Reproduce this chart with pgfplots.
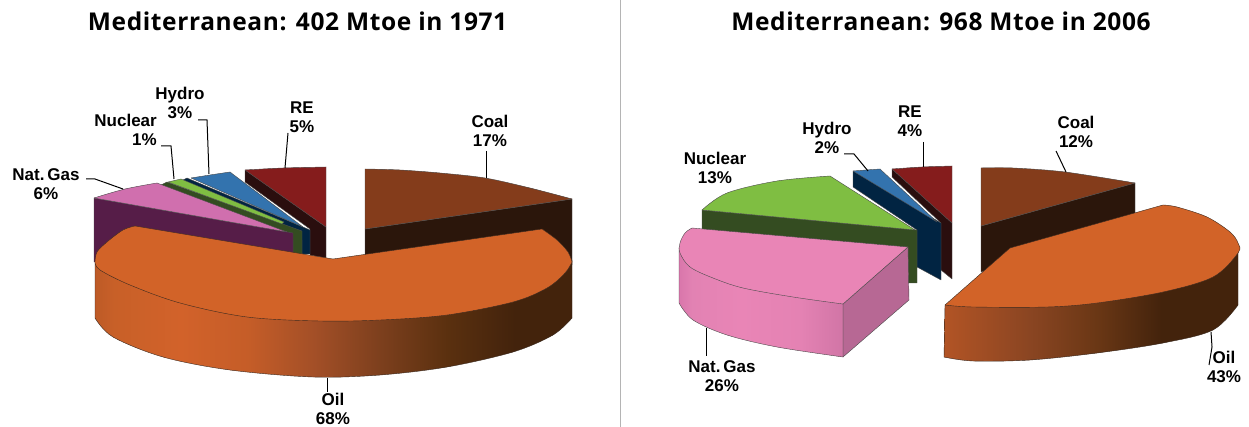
\documentclass[border=0pt]{standalone}
\usepackage{fontspec}
\setmainfont{Liberation Sans}
\newfontfamily\titlefont[LetterSpace=2.5]{Open Sans}
\usepackage{pgfplots}
\pgfplotsset{compat=1.18}

\definecolor{coaltop}{HTML}{843C1B}
\definecolor{coalside}{HTML}{2B160B}
\definecolor{oiltop}{HTML}{D26328}
\definecolor{retop}{HTML}{851C1C}
\definecolor{reside}{HTML}{2A0E0E}
\definecolor{hydrotop}{HTML}{3373AE}
\definecolor{hydroside}{HTML}{012442}
\definecolor{nuctop}{HTML}{7FBE42}
\definecolor{nucside}{HTML}{344C21}
\definecolor{gastopa}{HTML}{D06FAE}
\definecolor{gassidea}{HTML}{561D48}
\definecolor{gastopb}{HTML}{E985B6}
\definecolor{gasface}{HTML}{B76894}
\definecolor{edge}{HTML}{3A2A20}
\definecolor{sep}{HTML}{B4B4B4}

\definecolor{oa}{HTML}{BD5A27}\definecolor{ob}{HTML}{C86028}\definecolor{oc}{HTML}{D2622A}
\definecolor{od}{HTML}{C55D28}\definecolor{oe}{HTML}{A34F27}\definecolor{of}{HTML}{7C3F1D}
\definecolor{og}{HTML}{5A300F}\definecolor{oh}{HTML}{43230C}
\definecolor{oi}{HTML}{B25425}\definecolor{oj}{HTML}{8A4522}\definecolor{ok}{HTML}{6A3715}
\definecolor{pa}{HTML}{D976AB}\definecolor{pb}{HTML}{E282B3}\definecolor{pc}{HTML}{E482B3}\definecolor{pd}{HTML}{D175A6}

\pgfdeclarehorizontalshading{oilleft}{100bp}{color(0bp)=(oa); color(25bp)=(oa); color(27bp)=(ob);
  color(34bp)=(oc); color(41bp)=(od); color(48bp)=(oe); color(55bp)=(of); color(62bp)=(og);
  color(69bp)=(oh); color(100bp)=(oh)}
\pgfdeclarehorizontalshading{oilright}{100bp}{color(0bp)=(oi); color(25bp)=(oi); color(39.6bp)=(oj);
  color(51bp)=(ok); color(62bp)=(oh); color(100bp)=(oh)}
\pgfdeclarehorizontalshading{gasright}{100bp}{color(0bp)=(pa); color(25bp)=(pa); color(29bp)=(pb);
  color(43.6bp)=(gastopb); color(62bp)=(pc); color(75bp)=(pd); color(100bp)=(pd)}

\pgfplotsset{
  piepanel/.style={
    scale only axis, hide axis, clip=false,
    y dir=reverse, ymin=0, ymax=427, height=427pt,
    title style={font=\titlefont\fontsize{24.5}{26}\bfseries\selectfont, anchor=center},
  },
  wedge/.style={draw=gray!60!black, line width=0.4pt, line join=round},
  leader/.style={draw=black, line width=1pt, line join=miter},
}
\tikzset{lab/.style={font=\fontsize{17}{19.5}\bfseries\selectfont, align=center, inner sep=0pt}}

% face with one curved rim: #1 fill options, #2 edge colour, #3 points of the rim, #4 straight part, rim end back to rim start
\newcommand{\curvedface}[4]{
  \addplot[draw=none, #1] coordinates {#3 #4};
  \addplot[smooth, tension=0.55, draw=#2, line width=0.4pt, #1] coordinates {#3};
  \addplot[draw=#2, line width=0.4pt, line join=round] coordinates {#4};
}

\begin{document}
\begin{tikzpicture}
\useasboundingbox (0,0) rectangle (1249pt,427pt);
% ---------- 1971 ----------
\begin{axis}[piepanel, at={(0pt,0pt)}, xmin=0, xmax=620, width=620pt,
  title={Mediterranean: 402 Mtoe in 1971}, title style={at={(0.48,0.937)}}]
  % RE
  \addplot[wedge, fill=reside] coordinates {(245,170) (245,182) (310,229) (310,255) (326,258) (326,227) (245,170)};
  \curvedface{fill=retop}{gray!60!black}{(245,170) (283,168) (326,167)}{(326,167) (326,227) (245,170)}
  % Hydro
  \addplot[wedge, fill=hydroside] coordinates {(187,178) (310,230) (310,254) (302,254) (302,240) (183,180) (187,178)};
  \curvedface{fill=hydrotop}{gray!60!black}{(191,178) (210,175) (230,172)}{(230,172) (303,227) (191,178)}
  % Nuclear
  \addplot[wedge, fill=nucside] coordinates {(167,182) (302,231) (302,254) (293,254) (293,240) (161,185) (167,182)};
  \addplot[wedge, fill=nuctop] coordinates {(168,182) (181,179) (284,222) (282,224) (168,182)};
  % Nat. Gas
  \addplot[wedge, fill=gassidea] coordinates {(94,198) (293,233) (293,262) (94,262) (94,198)};
  \curvedface{fill=gastopa}{gray!60!black}{(94,198) (125,189) (157,183)}{(157,183) (287,232) (94,198)}
  % Coal
  \addplot[wedge, fill=coalside] coordinates {(365,229) (572,199) (572,265) (365,265) (365,229)};
  \curvedface{fill=coaltop}{gray!60!black}{(365,169) (400,170) (440,173) (485,178) (530,188) (572,199)}{(572,199) (365,229) (365,169)}
  % Oil, side first and then the top face: body, then the three stretches of its rim
  \curvedface{shade, shading=oilleft}{edge}{(95,318) (113,337) (163,357) (230,370) (313,377)
    (380,375) (447,367) (513,352) (553,335) (572,318)}{(572,318) (572,260) (95,262) (95,318)}
  \addplot[draw=none, fill=oiltop] coordinates {(135,226) (123,230) (107,242) (97,252) (95,262) (100,270) (130,285)
    (180,303) (247,317) (320,321) (380,320) (447,315) (513,302) (547,288) (565,273) (572,262)
    (568,252) (557,240) (542,229) (333,259) (135,226)};
  \addplot[smooth, tension=0.55, draw=edge, line width=0.4pt, fill=oiltop] coordinates {(135,226) (123,230) (107,242) (97,252) (95,262)};
  \addplot[smooth, tension=0.55, draw=edge, line width=0.4pt, fill=oiltop] coordinates {(95,262) (100,270) (130,285)
    (180,303) (247,317) (320,321) (380,320) (447,315) (513,302) (547,288) (565,273) (572,262)};
  \addplot[smooth, tension=0.55, draw=edge, line width=0.4pt, fill=oiltop] coordinates {(572,262) (568,252) (557,240) (542,229)};
  \addplot[draw=edge, line width=0.4pt, line join=round] coordinates {(542,229) (333,259) (135,226)};
  % leaders
  \addplot[leader] coordinates {(486,151) (486,178)};
  \addplot[leader] coordinates {(288,133) (285,168)};
  \addplot[leader] coordinates {(198,120) (207,120) (209,174)};
  \addplot[leader] coordinates {(161,146) (171,146) (174,179)};
  \addplot[leader] coordinates {(86,179) (95,179) (123,189)};
  \addplot[leader] coordinates {(327,378) (327,392)};
  % labels
  \node[lab] at (axis cs:490,131) {Coal\\17\%};
  \node[lab] at (axis cs:302,117) {RE\\5\%};
  \node[lab] at (axis cs:180,103) {Hydro\\3\%};
  \node[lab, align=right, anchor=east] at (axis cs:157,130) {Nuclear\\1\%};
  \node[lab] at (axis cs:46,184) {Nat.\,Gas\\6\%};
  \node[lab] at (axis cs:333,409) {Oil\\68\%};
\end{axis}
% ---------- 2006 ----------
\begin{axis}[piepanel, at={(620pt,0pt)}, xmin=620, xmax=1249, width=629pt,
  title={Mediterranean: 968 Mtoe in 2006}, title style={at={(0.5103,0.937)}}]
  \addplot[draw=sep, line width=1pt] coordinates {(620,0) (620,427)};
  % RE
  \addplot[wedge, fill=reside] coordinates {(892,169) (952,223) (952,279) (941,270) (941,223) (892,177) (892,169)};
  \curvedface{fill=retop}{gray!60!black}{(892,169) (922,167) (952,166)}{(952,166) (952,223) (892,169)}
  % Hydro
  \addplot[wedge, fill=hydroside] coordinates {(853,171) (941,223) (941,280) (917,267) (917,230) (853,187) (853,171)};
  \curvedface{fill=hydrotop}{gray!60!black}{(853,171) (866,170) (880,169)}{(880,169) (937,222) (853,171)}
  % Nuclear
  \addplot[wedge, fill=nucside] coordinates {(702,210) (917,230) (917,283) (905,283) (702,235) (702,210)};
  \curvedface{fill=nuctop}{gray!60!black}{(702,210) (727,193) (777,181) (830,176)}{(830,176) (915,230) (702,210)}
  % Nat. Gas
  \addplot[wedge, fill=gasface] coordinates {(843,304) (908,247) (909,300) (843,357) (843,304)};
  \curvedface{shade, shading=gasright}{gray!60!black}{(679,303) (693,320) (727,335) (777,347) (843,357)}{(843,357) (843,304) (679,248) (679,303)}
  \curvedface{fill=gastopb}{gray!60!black}{(692,228) (685,233) (680,243) (680,253) (690,267) (713,278)
    (743,288) (793,297) (843,304)}{(843,304) (908,247) (692,228)}
  % Coal
  \addplot[wedge, fill=coalside] coordinates {(981,226) (1135,183) (1135,215) (981,272) (981,226)};
  \curvedface{fill=coaltop}{gray!60!black}{(981,168) (1013,168) (1065,172) (1135,183)}{(1135,183) (981,226) (981,168)}
  % Oil
  \curvedface{shade, shading=oilright}{edge}{(944,357) (973,361) (1030,360) (1097,353) (1163,343)
    (1213,330) (1238,305)}{(1238,305) (1238,245) (945,305) (944,357)}
  \curvedface{fill=oiltop}{edge}{(1163,205) (1177,207) (1207,217) (1230,232) (1238,243) (1238,253)
    (1213,277) (1163,292) (1097,303) (1047,307) (973,307) (945,305)}{(945,305) (1010,248) (1163,205)}
  % leaders
  \addplot[leader] coordinates {(844,154) (854,154) (868,171)};
  \addplot[leader] coordinates {(923,142) (923,167)};
  \addplot[leader] coordinates {(1056,151) (1066,172)};
  \addplot[leader] coordinates {(706,328) (706,356)};
  \addplot[leader] coordinates {(1211,332) (1212,347) (1209,365)};
  % labels
  \node[lab] at (axis cs:1076,132) {Coal\\12\%};
  \node[lab] at (axis cs:910,121) {RE\\4\%};
  \node[lab] at (axis cs:827,138) {Hydro\\2\%};
  \node[lab] at (axis cs:715,168) {Nuclear\\13\%};
  \node[lab] at (axis cs:722,376) {Nat.\,Gas\\26\%};
  \node[lab] at (axis cs:1224,367) {Oil\\43\%};
\end{axis}
\end{tikzpicture}
\end{document}
